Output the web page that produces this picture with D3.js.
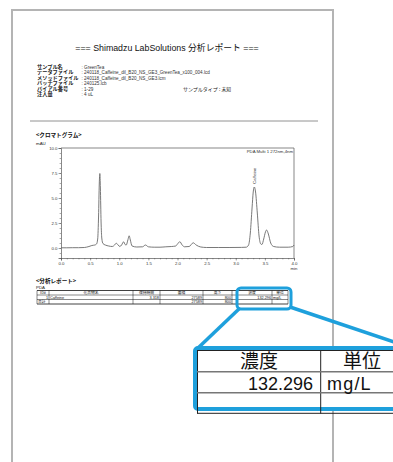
<!DOCTYPE html>
<html><head><meta charset="utf-8">
<script src="https://cdn.jsdelivr.net/npm/d3@7"></script>
<style>
body{margin:0;background:#fff}
text{font-family:"Liberation Sans","Noto Sans CJK JP",sans-serif}
.jp{font-family:"Noto Sans CJK JP","Liberation Sans",sans-serif}
</style>
</head><body>
<svg id="c" width="393" height="462"></svg>
<script>
// Report header
const reportTitle = "=== Shimadzu LabSolutions 分析レポート ===";
const infoLabels = ["サンプル名","データファイル","メソッドファイル","バッチファイル","バイアル番号","注入量"];
const infoValues = ["GreenTea","240118_Caffeine_dil_B20_NS_GE3_GreenTea_x100_004.lcd","240118_Caffeine_dil_B20_NS_GE3.lcm","240125.lcb","1-29","4 uL"];

// Chromatogram trace (min, mAU)
const retTime = [0.00,0.10,0.20,0.30,0.40,0.48,0.53,0.58,0.61,0.63,0.645,0.657,0.667,0.676,0.688,0.70,0.72,0.76,0.82,0.88,0.92,0.948,0.98,1.01,1.04,1.075,1.10,1.12,1.15,1.17,1.19,1.22,1.30,1.40,1.45,1.50,1.60,1.70,1.80,1.90,1.97,2.00,2.04,2.08,2.12,2.20,2.27,2.32,2.40,2.50,2.70,2.90,3.10,3.18,3.22,3.25,3.28,3.30,3.318,3.34,3.37,3.40,3.43,3.45,3.48,3.51,3.53,3.56,3.60,3.65,3.75,3.90,3.98,4.00];
const mAU     = [0.02,0.02,0.03,0.03,0.05,0.15,0.25,0.30,0.40,0.9,3.2,6.4,7.45,6.0,2.6,1.0,0.45,0.30,0.20,0.15,0.30,0.48,0.30,0.15,0.30,0.62,0.35,0.30,0.85,1.22,0.80,0.20,0.10,0.12,0.30,0.12,0.08,0.08,0.12,0.15,0.20,0.40,0.63,0.30,0.12,0.15,0.52,0.30,0.10,0.05,0.05,0.05,0.06,0.08,0.30,1.5,4.0,5.6,6.1,5.6,3.5,1.2,0.40,0.35,0.90,1.60,1.80,1.40,0.50,0.15,0.08,0.08,0.15,0.30];
const yTicks = [0,2.5,5,7.5,10];
const xTicks = [0,0.5,1,1.5,2,2.5,3,3.5,4];
const peakName = "Caffeine";
const peakRT = 3.318, peakTop = 6.1;
const detectorLabel = "PDA Multi 1 272nm,4nm";

// Result table
const tableHeaders = ["ID#","化合物名","保持時間","面積","高さ","濃度","単位"];
const resultRow = ["1","Caffeine","3.318","27589","800","132.296","mg/L"];
const totalRow = ["合計","","","27589","800","",""];

const svg = d3.select("#c");

// page sheet
svg.append("rect").attr("x",12).attr("y",10).attr("width",321).attr("height",480)
  .attr("fill","#fff").attr("stroke","#b4b4b4").attr("stroke-width",2);

svg.append("text").attr("x",167).attr("y",50.5).attr("text-anchor","middle")
  .attr("font-size",8.8).attr("fill","#111").text(reportTitle);

const info = svg.append("g");
infoLabels.forEach((l,i)=>{
  const y = 68.5 + i*5.5;
  info.append("text").attr("class","jp").attr("x",37).attr("y",y).attr("font-size",5.2)
    .attr("font-weight","bold").attr("fill","#222").text(l);
  info.append("text").attr("x",81.5).attr("y",y).attr("font-size",4.6).attr("fill","#333")
    .text(": " + infoValues[i]);
});
info.append("text").attr("class","jp").attr("x",183).attr("y",68.5+4*5.5).attr("font-size",5)
  .attr("fill","#222").text("サンプルタイプ");
info.append("text").attr("class","jp").attr("x",219).attr("y",68.5+4*5.5).attr("font-size",4.8)
  .attr("fill","#222").text(": 未知");

svg.append("line").attr("x1",30).attr("x2",318).attr("y1",121).attr("y2",121)
  .attr("stroke","#777").attr("stroke-width",0.8);

// chromatogram
svg.append("text").attr("class","jp").attr("x",36).attr("y",137).attr("font-size",5.6)
  .attr("font-weight","bold").attr("fill","#111").text("<クロマトグラム>");
svg.append("text").attr("x",36).attr("y",145).attr("font-size",4.4).attr("fill","#222").text("mAU");

const x = d3.scaleLinear().domain([0,4]).range([61,294]);
const y = d3.scaleLinear().domain([-1,10]).range([258,148]);
const axisCol = "#555";

const plot = svg.append("g");
plot.append("line").attr("x1",x(0)).attr("x2",x(4)).attr("y1",y(10)).attr("y2",y(10)).attr("stroke",axisCol).attr("stroke-width",0.7);
plot.append("line").attr("x1",x(4)).attr("x2",x(4)).attr("y1",y(10)).attr("y2",y(-1)).attr("stroke",axisCol).attr("stroke-width",0.7);

const fmt = d3.format(".1f");
const gy = plot.append("g").attr("transform",`translate(${x(0)},0)`)
  .call(d3.axisLeft(y).tickValues(yTicks).tickFormat(fmt).tickSize(2.5).tickPadding(1));
const gyMinor = plot.append("g").attr("transform",`translate(${x(0)},0)`)
  .call(d3.axisLeft(y).tickValues(d3.range(-1,10.01,0.5)).tickFormat("").tickSize(1.4));
const gx = plot.append("g").attr("transform",`translate(0,${y(-1)})`)
  .call(d3.axisBottom(x).tickValues(xTicks).tickFormat(fmt).tickSize(2.5).tickPadding(1));
const gxMinor = plot.append("g").attr("transform",`translate(0,${y(-1)})`)
  .call(d3.axisBottom(x).tickValues(d3.range(0,4.001,0.1)).tickFormat("").tickSize(1.4));
[gy,gyMinor,gx,gxMinor].forEach(g=>{
  g.selectAll("path").attr("stroke",axisCol).attr("stroke-width",0.7);
  g.selectAll("line").attr("stroke",axisCol).attr("stroke-width",0.5);
  g.selectAll("text").attr("font-size",4.3).attr("fill","#333").attr("font-family","Liberation Sans");
});
gyMinor.select("path").remove(); gxMinor.select("path").remove();

svg.append("text").attr("x",x(4)).attr("y",270).attr("text-anchor","middle")
  .attr("font-size",4.3).attr("fill","#333").text("min");
svg.append("text").attr("x",x(4)-1).attr("y",152.5).attr("text-anchor","end")
  .attr("font-size",4.3).attr("fill","#333").text(detectorLabel);

const line = d3.line().x((d,i)=>x(retTime[i])).y(d=>y(d)).curve(d3.curveMonotoneX);
plot.append("path").attr("d",line(mAU)).attr("fill","none").attr("stroke","#6a6a6a").attr("stroke-width",0.9);

svg.append("text").attr("transform",`translate(${x(peakRT)+1.5},${y(peakTop)-3}) rotate(-90)`)
  .attr("font-size",4.4).attr("fill","#333").text(peakName);

// result table
svg.append("text").attr("class","jp").attr("x",36).attr("y",283).attr("font-size",5.6)
  .attr("font-weight","bold").attr("fill","#111").text("<分析レポート>");
svg.append("text").attr("x",36).attr("y",289.3).attr("font-size",4.4).attr("fill","#222").text("PDA");

const colEdges = [37,49,133,160,203,232,272,288];
const rowTop = 290.5, rowH = 4.5;
const tbl = svg.append("g");
const rows = [tableHeaders,resultRow,totalRow];
for (let r=0;r<=3;r++){
  tbl.append("line").attr("x1",colEdges[0]).attr("x2",colEdges[7])
    .attr("y1",rowTop+r*rowH).attr("y2",rowTop+r*rowH)
    .attr("stroke","#111").attr("stroke-width",(r===0||r===3)?0.8:0.5);
}
colEdges.forEach((cx,i)=>{
  tbl.append("line").attr("x1",cx).attr("x2",cx).attr("y1",rowTop).attr("y2",rowTop+3*rowH)
    .attr("stroke","#111").attr("stroke-width",0.5);
});
rows.forEach((row,r)=>{
  row.forEach((v,c)=>{
    if(!v) return;
    let xx, anchor;
    if (r===0){ xx=(colEdges[c]+colEdges[c+1])/2; anchor="middle"; }
    else if (c===1 || c===6 || (r===2&&c===0)){ xx=colEdges[c]+1; anchor="start"; }
    else { xx=colEdges[c+1]-1; anchor="end"; }
    tbl.append("text").attr("class",r===0||(r===2&&c===0)?"jp":null)
      .attr("x",xx).attr("y",rowTop+r*rowH+3.6).attr("text-anchor",anchor)
      .attr("font-size",3.8).attr("fill","#111").text(v);
  });
});

// callout
const blue = "#1ea0dc";
svg.append("line").attr("x1",240).attr("y1",308).attr("x2",198).attr("y2",348)
  .attr("stroke",blue).attr("stroke-width",3.5);
svg.append("line").attr("x1",290).attr("y1",307).attr("x2",400).attr("y2",344)
  .attr("stroke",blue).attr("stroke-width",3.5);
svg.append("rect").attr("x",237).attr("y",288).attr("width",54).attr("height",21).attr("rx",4)
  .attr("fill","none").attr("stroke",blue).attr("stroke-width",3);

const zoomBox = svg.append("g");
zoomBox.append("rect").attr("x",195).attr("y",348).attr("width",220).attr("height",61).attr("rx",3)
  .attr("fill","#fff").attr("stroke",blue).attr("stroke-width",4);
zoomBox.append("line").attr("x1",197.5).attr("x2",197.5).attr("y1",350).attr("y2",413.5).attr("stroke","#222").attr("stroke-width",1);
zoomBox.append("line").attr("x1",320.7).attr("x2",320.7).attr("y1",350).attr("y2",413.5).attr("stroke","#222").attr("stroke-width",1);
zoomBox.append("line").attr("x1",197).attr("x2",393).attr("y1",350.5).attr("y2",350.5).attr("stroke","#222").attr("stroke-width",1);
zoomBox.append("line").attr("x1",197).attr("x2",393).attr("y1",371.7).attr("y2",371.7).attr("stroke","#777").attr("stroke-width",1.6);
zoomBox.append("line").attr("x1",197).attr("x2",393).attr("y1",392.7).attr("y2",392.7).attr("stroke","#777").attr("stroke-width",1.6);
zoomBox.append("line").attr("x1",197).attr("x2",393).attr("y1",413.3).attr("y2",413.3).attr("stroke","#222").attr("stroke-width",1);
zoomBox.append("text").attr("class","jp").attr("x",259).attr("y",368).attr("text-anchor","middle")
  .attr("font-size",19).attr("fill","#111").text(tableHeaders[5]);
zoomBox.append("text").attr("class","jp").attr("x",362).attr("y",368).attr("text-anchor","middle")
  .attr("font-size",19).attr("fill","#111").text(tableHeaders[6]);
zoomBox.append("text").attr("x",313).attr("y",389.5).attr("text-anchor","end")
  .attr("font-size",18).attr("fill","#111").text(resultRow[5]);
zoomBox.append("text").attr("x",327).attr("y",389.5).attr("text-anchor","start")
  .attr("font-size",18).attr("letter-spacing",1.2).attr("fill","#111").text(resultRow[6]);
</script>
</body></html>
